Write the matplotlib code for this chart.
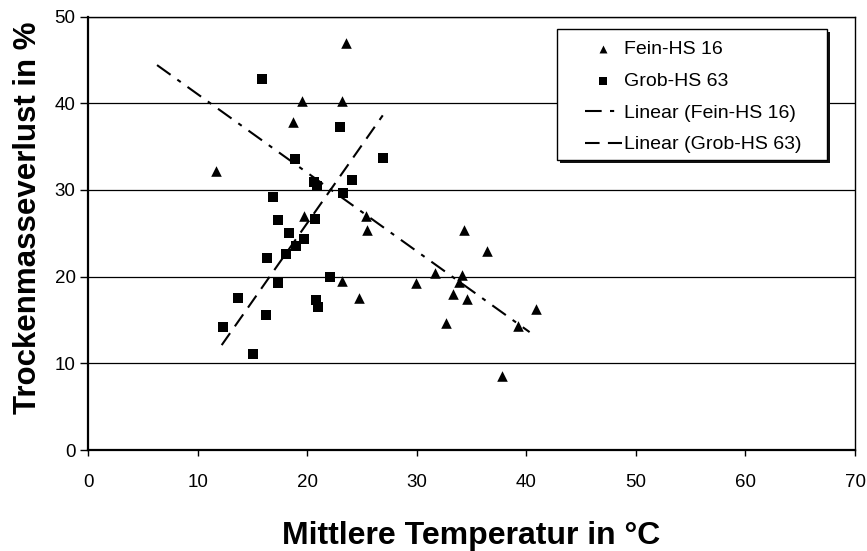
import numpy as np
import matplotlib
matplotlib.use("Agg")
import matplotlib.pyplot as plt
from matplotlib.patches import Rectangle

plt.rcParams['font.family'] = ['Liberation Sans', 'DejaVu Sans']

# Data: Fein-HS 16 (triangles)
fein_x = [11.7, 18.7, 19.5, 23.2, 23.5, 19.7, 25.4, 25.5, 23.2, 24.7, 29.9,
          31.7, 34.1, 33.9, 33.3, 34.6, 32.7, 39.2, 40.9, 37.8, 34.3, 36.4]
fein_y = [32.2, 37.8, 40.2, 40.2, 47.0, 27.0, 27.0, 25.4, 19.5, 17.5, 19.3,
          20.4, 20.2, 19.4, 18.0, 17.4, 14.6, 14.3, 16.3, 8.5, 25.4, 23.0]

# Data: Grob-HS 63 (squares)
grob_x = [15.9, 23.0, 26.9, 18.9, 20.6, 20.9, 24.1, 23.3, 16.9, 17.3, 20.7, 18.3,
          19.7, 19.0, 18.1, 16.3, 22.1, 17.3, 13.7, 20.8, 21.0, 16.2, 12.3, 15.1]
grob_y = [42.8, 37.3, 33.7, 33.6, 30.9, 30.4, 31.1, 29.6, 29.2, 26.5, 26.6, 25.0,
          24.3, 23.5, 22.6, 22.1, 20.0, 19.3, 17.5, 17.3, 16.5, 15.6, 14.2, 11.1]

# Linear trendlines (end points)
fein_trend_x = [6.3, 40.3]
fein_trend_y = [44.4, 13.6]
grob_trend_x = [12.2, 26.9]
grob_trend_y = [12.1, 38.6]

x_ticks = [0, 10, 20, 30, 40, 50, 60, 70]
y_ticks = [0, 10, 20, 30, 40, 50]

fig = plt.figure(figsize=(8.67, 5.51), dpi=100)
ax = fig.add_axes([0.1015, 0.1833, 0.8847, 0.7867])

ax.scatter(fein_x, fein_y, marker='^', s=58, color='black', label='Fein-HS 16', zorder=3, linewidths=0)
ax.scatter(grob_x, grob_y, marker='s', s=55, color='black', label='Grob-HS 63', zorder=3, linewidths=0)

ax.plot(fein_trend_x, fein_trend_y, color='black', lw=1.5,
        dashes=(8, 4, 2, 4), label='Linear (Fein-HS 16)', zorder=2)
ax.plot(grob_trend_x, grob_trend_y, color='black', lw=1.5,
        dashes=(7, 4), label='Linear (Grob-HS 63)', zorder=2)

ax.set_xlim(0, 70)
ax.set_ylim(0, 50)
ax.set_xticks(x_ticks)
ax.set_yticks(y_ticks)
ax.tick_params(axis='both', labelsize=13.5, direction='out', width=1, color='black')
ax.tick_params(axis='x', length=4, pad=13)
ax.tick_params(axis='y', length=6, pad=3)
ax.yaxis.grid(True, color='black', lw=0.9)
ax.set_axisbelow(True)
for s in ax.spines.values():
    s.set_color('black')
    s.set_linewidth(1.0)
ax.spines['left'].set_linewidth(1.6)
ax.spines['bottom'].set_linewidth(1.6)

ax.set_xlabel('Mittlere Temperatur in °C', fontsize=23, fontweight='bold', labelpad=22)
ax.set_ylabel('Trockenmasseverlust in %', fontsize=22.5, fontweight='bold', labelpad=8)
ax.yaxis.label.set_y(0.536)

# Legend frame with shadow (axes fraction coordinates)
fx0, fy0, fw, fh = 0.6115, 0.6686, 0.352, 0.3024
sx, sy = 2.5 / 767, 2.5 / 433
ax.add_patch(Rectangle((fx0 + sx, fy0 - sy), fw, fh, transform=ax.transAxes,
                       facecolor='#111111', edgecolor='none', zorder=5, clip_on=False))
ax.add_patch(Rectangle((fx0, fy0), fw, fh, transform=ax.transAxes,
                       facecolor='white', edgecolor='black', lw=1.0, zorder=6, clip_on=False))

leg = ax.legend(loc='upper left', bbox_to_anchor=(0.636, 0.964), fontsize=14,
                frameon=False, handlelength=1.9, handletextpad=0.15,
                labelspacing=0.72, borderpad=0.45, borderaxespad=0, markerscale=0.75)
leg.set_zorder(7)

fig.savefig('out.png', dpi=100)
